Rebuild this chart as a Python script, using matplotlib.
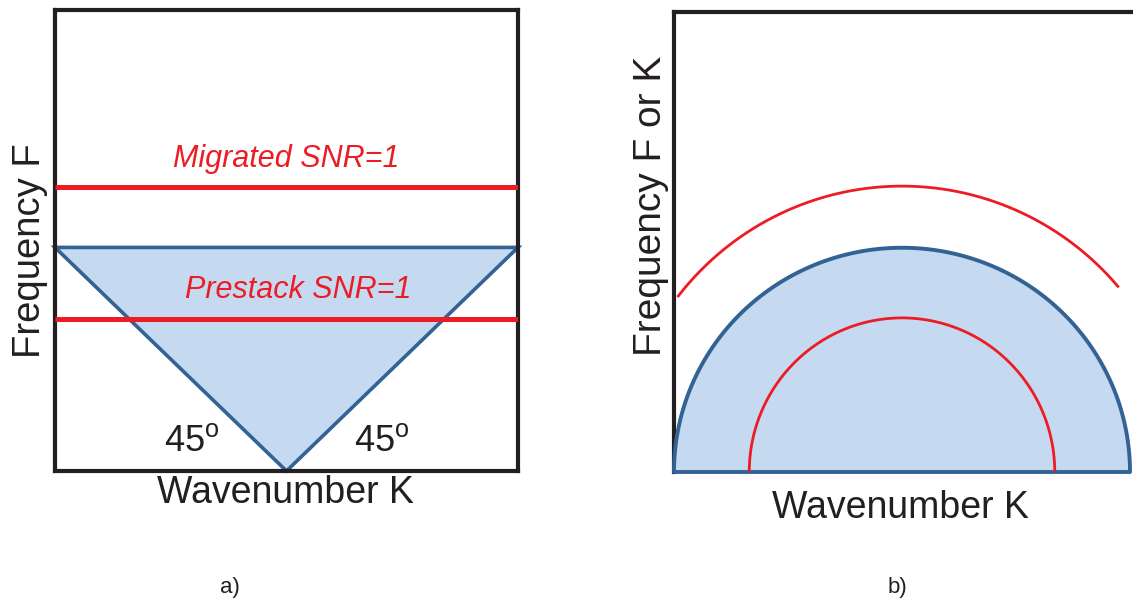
import numpy as np
import matplotlib
matplotlib.use("Agg")
import matplotlib.pyplot as plt
from matplotlib.patches import Polygon

plt.rcParams['font.family'] = ['Liberation Sans', 'DejaVu Sans']
plt.rcParams['mathtext.fontset'] = 'custom'
plt.rcParams['mathtext.rm'] = 'Liberation Sans'

### Values shared by both panels
snr_labels = ["Prestack SNR=1", "Migrated SNR=1"]
snr_freq = [0.66, 1.23]          # frequency where SNR drops to 1
aperture_freq = 0.97             # top of the recorded F-K cone
aperture_k = 1.0                 # cone half-width at the top
dip_angle = 45                   # cone slope in degrees

### Panel b contours (K half-width, F height)
arc_k = [0.67, 1.0, 1.245]
arc_f = [0.67, 0.975, 1.243]
outer_arc_deg = [40.5, 142.0]

black = "#231F20"
blue = "#336294"
fill = "#C5D9F0"
red = "#ED1C24"

fig = plt.figure(figsize=(11.33, 6.04), dpi=100)
W, H = 1133.0, 604.0

### a) F-K triangle
ax1 = fig.add_axes([55 / W, 1 - 471 / H, 463 / W, 461 / H])
ax1.set_xlim(-1, 1)
ax1.set_ylim(0, 2)
ax1.set_xticks([])
ax1.set_yticks([])
for s in ax1.spines.values():
    s.set_linewidth(3.0)
    s.set_color(black)

tri = Polygon([[-aperture_k, aperture_freq], [aperture_k, aperture_freq], [0, 0]],
              closed=True, facecolor=fill, edgecolor=blue, linewidth=2.6,
              joinstyle="miter", clip_on=False, zorder=2)
ax1.add_patch(tri)

label_dx = [0.05, 0.0]
for lab, f, dx in zip(snr_labels, snr_freq, label_dx):
    ax1.plot([-1, 1], [f, f], color=red, linewidth=3.6, solid_capstyle="butt", zorder=3)
    ax1.annotate(lab, xy=(dx, f), xytext=(0, 10), textcoords="offset points",
                 ha="center", va="bottom", color=red, fontsize=22, style="italic")

angle_txt = "%d$^{\\mathrm{o}}$" % dip_angle
ax1.text(-0.41, 0.13, angle_txt, ha="center", va="center", fontsize=26, color=black)
ax1.text(0.41, 0.13, angle_txt, ha="center", va="center", fontsize=26, color=black)

ax1.text(0.497, -0.048, "Wavenumber K", transform=ax1.transAxes, ha="center",
         va="center", fontsize=27, color=black)
ax1.text(-0.054, 0.479, "Frequency F", transform=ax1.transAxes, ha="center",
         va="center", rotation=90, fontsize=27.5, color=black)

### b) dipping-reflector semicircles
ax2 = fig.add_axes([674 / W, 1 - 472 / H, 461 / W, 460 / H])
ax2.set_xlim(-1, 1 + 2 * 5 / 456.0)
ax2.set_ylim(0, 2)
ax2.set_xticks([])
ax2.set_yticks([])
ax2.spines["right"].set_visible(False)
ax2.spines["bottom"].set_visible(False)
for side in ["left", "top"]:
    ax2.spines[side].set_linewidth(3.0)
    ax2.spines[side].set_color(black)

t = np.linspace(0, np.pi, 200)
half = Polygon(np.column_stack([arc_k[1] * np.cos(t), arc_f[1] * np.sin(t)]),
               closed=True, facecolor=fill, edgecolor=blue, linewidth=2.8,
               joinstyle="round", clip_on=False, zorder=3)
ax2.add_patch(half)

ax2.plot(arc_k[0] * np.cos(t), arc_f[0] * np.sin(t), color=red, linewidth=2.0, zorder=4)
to = np.radians(np.linspace(outer_arc_deg[0], outer_arc_deg[1], 200))
ax2.plot(arc_k[2] * np.cos(to), arc_f[2] * np.sin(to), color=red, linewidth=2.0, zorder=4)

ax2.text(0.492, -0.078, "Wavenumber K", transform=ax2.transAxes, ha="center",
         va="center", fontsize=27, color=black)
ax2.text(-0.05, 0.578, "Frequency F or K", transform=ax2.transAxes, ha="center",
         va="center", rotation=90, fontsize=28, color=black)

fig.text(230 / W, 1 - 588 / H, "a)", ha="center", va="center", fontsize=16, color=black)
fig.text(897 / W, 1 - 588 / H, "b)", ha="center", va="center", fontsize=16, color=black)

fig.savefig("out.png", dpi=100)
